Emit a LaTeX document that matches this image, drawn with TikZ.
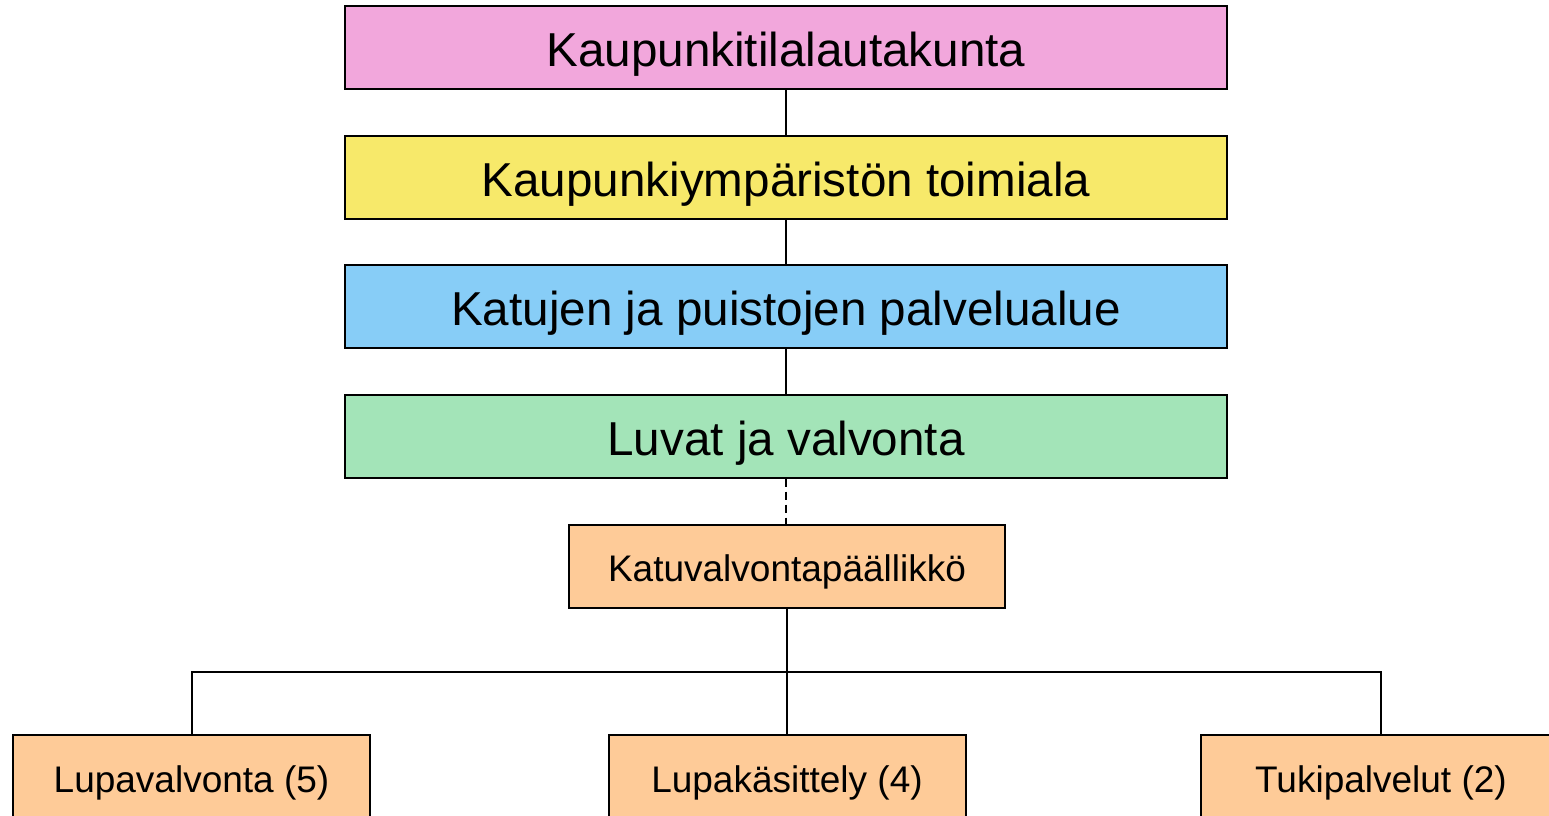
\documentclass[tikz,border=0pt]{standalone}
\usepackage{fontspec}
\setmainfont{Liberation Sans}
\definecolor{cpink}{HTML}{F2A7DC}
\definecolor{cyellow}{HTML}{F7E96A}
\definecolor{cblue}{HTML}{87CDF7}
\definecolor{cgreen}{HTML}{A3E4B8}
\definecolor{corange}{HTML}{FECB98}
\begin{document}
\begin{tikzpicture}[x=0.5pt,y=-0.5pt,
  bigbox/.style={draw=black,line width=1pt,minimum width=441pt,minimum height=41.5pt,inner sep=0pt,text height=19.04pt,text depth=0pt,font=\fontsize{23.8}{26}\selectfont},
  smallbox/.style={draw=black,line width=1pt,fill=corange,minimum width=178.5pt,minimum height=44pt,inner sep=0pt,text height=13.25pt,text depth=0pt,font=\fontsize{18.5}{21}\selectfont},
  conn/.style={line width=1pt}]
\useasboundingbox (0,0) rectangle (1549,815);
\clip (0,0) rectangle (1549,815);
\node[bigbox,fill=cpink] (ku) at (786,47.5) {Kaupunkitilalautakunta};
\node[bigbox,fill=cyellow] (ky) at (786,177) {Kaupunkiympäristön toimiala};
\node[bigbox,fill=cblue] (kp) at (786,306.5) {Katujen ja puistojen palvelualue};
\node[bigbox,fill=cgreen] (lv) at (786,436) {Luvat ja valvonta};
\node[smallbox,minimum width=218pt,minimum height=41.5pt,text height=15.25pt] (kv) at (787,566.5) {Katuvalvontapäällikkö};
\node[smallbox] (lpv) at (191.5,779) {Lupavalvonta (5)};
\node[smallbox] (lpk) at (787,779) {Lupakäsittely (4)};
\node[smallbox,minimum width=180pt] (tp) at (1381,779) {Tukipalvelut (2)};
\coordinate (j) at (787,672);
\draw[conn] (ku.south) -- (ky.north);
\draw[conn] (ky.south) -- (kp.north);
\draw[conn] (kp.south) -- (lv.north);
\draw[conn,dash pattern=on 4pt off 2.5pt] (lv.south) -- (lv.south |- kv.north);
\draw[conn] (kv.south) -- (lpk.north);
\draw[conn] (lpv.north) -- (lpv.north |- j) -- (tp.north |- j) -- (tp.north);
\end{tikzpicture}
\end{document}
